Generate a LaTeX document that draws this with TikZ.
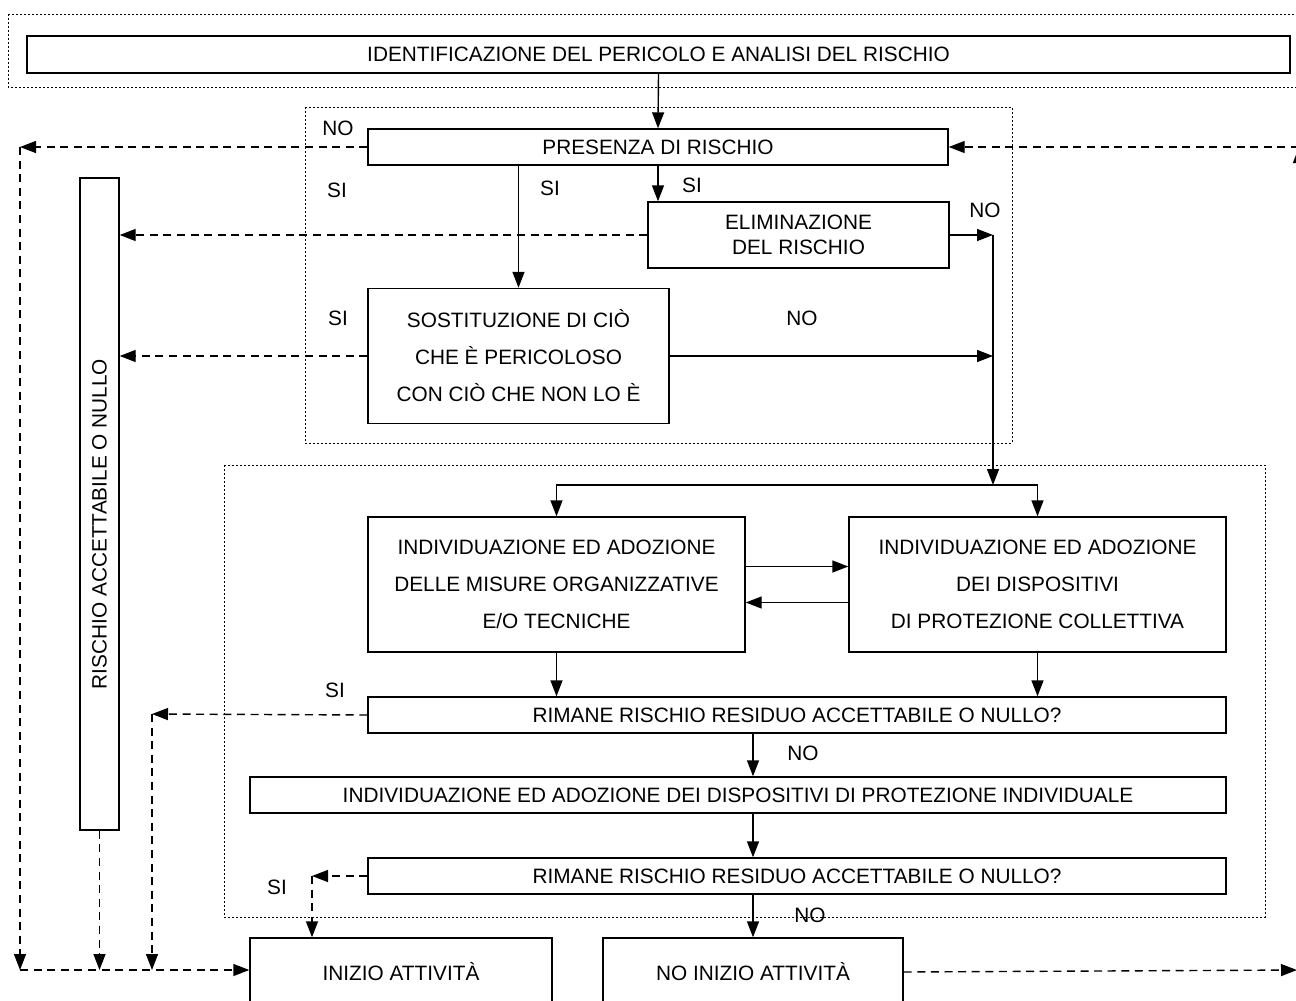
\documentclass[tikz,border=0pt]{standalone}
\usepackage{fontspec}
\setmainfont{Liberation Sans}
\usetikzlibrary{arrows.meta, positioning, calc}

\begin{document}
\begin{tikzpicture}[
  x=0.5pt, y=-0.5pt,
  box/.style={draw, line width=0.7pt, align=center, inner sep=0pt, font=\fontsize{10.4}{18.5}\selectfont},
  lbl/.style={font=\fontsize{10.4}{12}\selectfont, inner sep=0pt},
  arr/.style={-{Triangle[length=8pt, width=6pt]}, line width=0.7pt},
  darr/.style={arr, dash pattern=on 4pt off 2.8pt},
  zone/.style={draw, line width=0.5pt, dash pattern=on 1pt off 1pt}
]
  \useasboundingbox (0,0) rectangle (1296,1001);
  \clip (0,0) rectangle (1296,1001);

  % Zones
  \draw[zone] (8,14) rectangle (1302,87);
  \draw[zone] (305,107) rectangle (1012,443);
  \draw[zone] (224,465) rectangle (1265,917);

  % Identification and first choices
  \node[box, minimum width=631.5pt, minimum height=18.5pt] (ident) at (658.5,54.5) {IDENTIFICAZIONE DEL PERICOLO E ANALISI DEL RISCHIO};
  \node[box, minimum width=290pt, minimum height=18pt] (presenza) at (658,147) {PRESENZA DI RISCHIO};
  \node[box, minimum width=150.5pt, minimum height=33pt, font=\fontsize{10.4}{12.5}\selectfont] (elim) at (798.5,235) {ELIMINAZIONE\\DEL RISCHIO};
  \node[box, minimum width=150.5pt, minimum height=67.5pt] (sost) at (518.5,356) {SOSTITUZIONE DI CIÒ\\CHE È PERICOLOSO\\CON CIÒ CHE NON LO È};
  \node[box, rotate=90, minimum width=326pt, minimum height=19.5pt] (rischio) at (99.5,504) {RISCHIO ACCETTABILE O NULLO\hspace*{20pt}};

  % Measures
  \node[box, minimum width=188.5pt, minimum height=67.5pt] (org) at (556.5,584.5) {INDIVIDUAZIONE ED ADOZIONE\\DELLE MISURE ORGANIZZATIVE\\E/O TECNICHE};
  \node[box, minimum width=188.5pt, minimum height=67.5pt] (coll) at (1037.5,584.5) {INDIVIDUAZIONE ED ADOZIONE\\DEI DISPOSITIVI\\DI PROTEZIONE COLLETTIVA};
  \node[box, minimum width=429pt, minimum height=18pt] (rim1) at (797,715) {RIMANE RISCHIO RESIDUO ACCETTABILE O NULLO?};
  \node[box, minimum width=488pt, minimum height=18pt] (indpi) at (738,795) {INDIVIDUAZIONE ED ADOZIONE DEI DISPOSITIVI DI PROTEZIONE INDIVIDUALE};
  \node[box, minimum width=429pt, minimum height=18pt] (rim2) at (797,876) {RIMANE RISCHIO RESIDUO ACCETTABILE O NULLO?};

  % Outcomes
  \node[box, minimum width=151pt, minimum height=34pt] (inizio) at (401,972) {INIZIO ATTIVITÀ};
  \node[box, minimum width=150pt, minimum height=34pt] (noinizio) at (753,972) {NO INIZIO ATTIVITÀ};

  % Corner points
  \coordinate (lt) at (20,147);
  \coordinate (lb) at (20,970);
  \coordinate (rt) at (1299,147);
  \coordinate (rb) at (1299,970);
  \coordinate (nojoin) at (993,235);
  \coordinate (split) at (993,485);
  \coordinate (sit) at (152,714);
  \coordinate (sib) at (312,876);

  % Labels
  \node[lbl] (noa) at (338,128) {NO};
  \node[lbl] (sia) at (337,190) {SI};
  \node[lbl] (sib1) at (550,188) {SI};
  \node[lbl] (sic) at (692,185) {SI};
  \node[lbl] (nob) at (985,210) {NO};
  \node[lbl] (sid) at (338,318) {SI};
  \node[lbl] (noc) at (802,318) {NO};
  \node[lbl] (sie) at (335,690) {SI};
  \node[lbl] (nod) at (803,753) {NO};
  \node[lbl] (sif) at (277,887) {SI};
  \node[lbl] (noe) at (810,915) {NO};

  % Solid flow
  \draw[arr] (ident.south) -- (presenza.north);
  \draw[arr] (presenza.south) -- (presenza.south |- elim.north);
  \draw[arr] (sost.north |- presenza.south) -- (sost.north);
  \draw[arr] (elim.east) -- (nojoin);
  \draw[arr] (sost.east) -- (sost.east -| nojoin);
  \draw[arr] (nojoin) -- (split);
  \draw[arr, {Triangle[length=8pt, width=6pt]}-{Triangle[length=8pt, width=6pt]}] (org.north) -- (org.north |- split) -- (coll.north |- split) -- (coll.north);
  \draw[arr] ([yshift=9pt]org.east) -- ([yshift=9pt]coll.west);
  \draw[arr] ([yshift=-9pt]coll.west) -- ([yshift=-9pt]org.east);
  \draw[arr] (org.south) -- (org.south |- rim1.north);
  \draw[arr] (coll.south) -- (coll.south |- rim1.north);
  \draw[arr] (noinizio.north |- rim1.south) -- (noinizio.north |- indpi.north);
  \draw[arr] (noinizio.north |- indpi.south) -- (noinizio.north |- rim2.north);
  \draw[arr] (noinizio.north |- rim2.south) -- (noinizio.north);

  % Dashed flow
  \draw[darr] (presenza.west) -- (lt);
  \draw[darr] (lt) -- (lb);
  \draw[darr] (lb) -- (lb -| inizio.west);
  \draw[darr] (elim.west) -- (elim.west -| rischio.south);
  \draw[darr] (sost.west) -- (sost.west -| rischio.south);
  \draw[darr] (rischio.west) -- (rischio.west |- lb);
  \draw[darr] (rim1.west) -- (sit);
  \draw[darr] (sit) -- (sit |- lb);
  \draw[darr] (rim2.west) -- (sib);
  \draw[darr] (sib) -- (sib |- inizio.north);
  \draw[darr] (noinizio.east) -- ([xshift=-1pt]rb);
  \draw[darr] (rb) -- (rt);
  \draw[darr] (rt) -- (presenza.east);
\end{tikzpicture}
\end{document}
